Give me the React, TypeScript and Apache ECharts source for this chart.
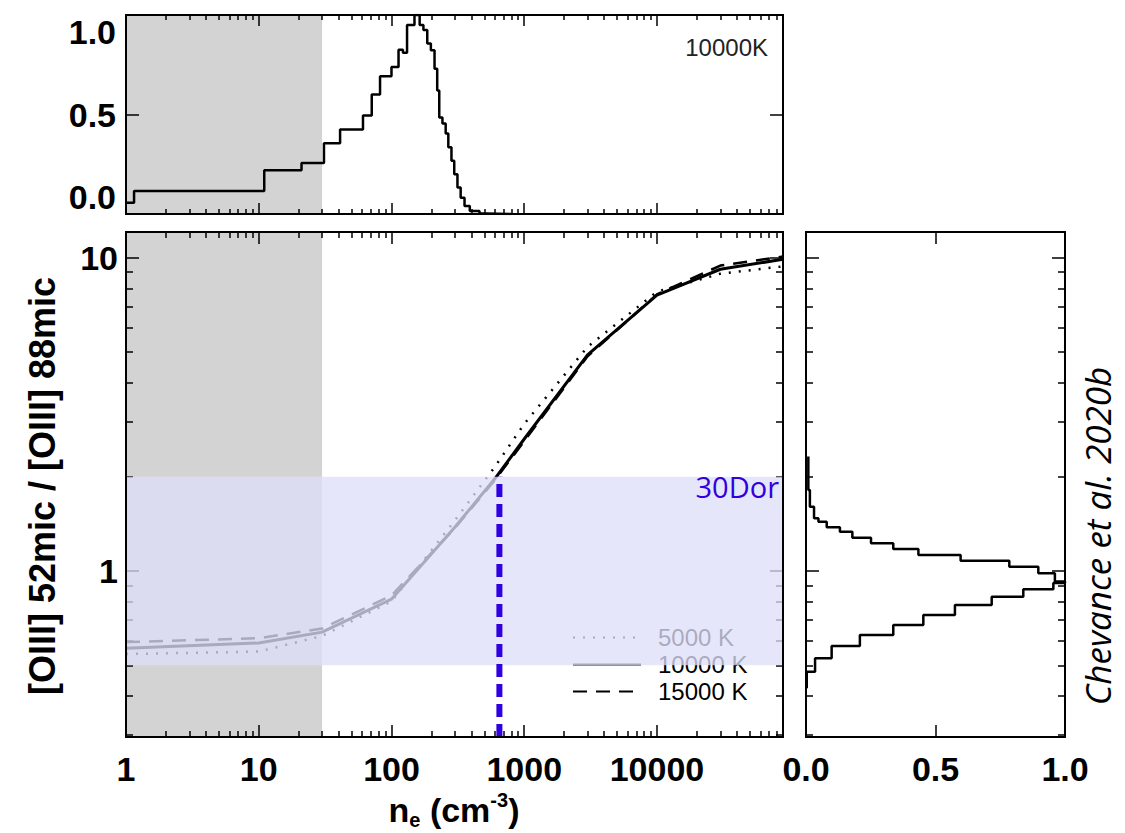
import React, { useEffect, useRef } from 'react';
import * as echarts from 'echarts';

// ---------- data ----------
const densities = [1, 10, 30, 100, 300, 600, 1000, 3000, 10000, 30000, 89000];
const ratio5000K = [0.543, 0.553, 0.62, 0.8, 1.45, 2.15, 2.95, 5.2, 7.8, 8.9, 9.4];
const ratio10000K = [0.567, 0.589, 0.638, 0.813, 1.38, 1.97, 2.64, 4.9, 7.6, 9.2, 9.9];
const ratio15000K = [0.593, 0.61, 0.655, 0.835, 1.37, 1.95, 2.6, 4.85, 7.65, 9.45, 10.1];

// top histogram: left edge of each step (cm^-3) and normalised level
const topEdges = [1, 1.15, 11, 21, 31, 41, 61, 71, 82, 100, 113, 122, 131, 149, 163, 174, 186, 198, 211, 221, 229, 242, 256, 268, 283, 297, 314, 332, 355, 389, 460, 520, 800];
const topLevels = [0.057, 0.116, 0.22, 0.256, 0.355, 0.424, 0.495, 0.6, 0.692, 0.739, 0.826, 0.81, 0.95, 1.0, 0.95, 0.924, 0.857, 0.823, 0.73, 0.62, 0.485, 0.455, 0.404, 0.335, 0.268, 0.2, 0.133, 0.082, 0.04, 0.015, 0.003, 0.0, 0.0];

// right histogram: ratio bin edges (lower edge) and normalised counts
const rightRatios = [0.422, 0.477, 0.526, 0.576, 0.625, 0.672, 0.724, 0.779, 0.828, 0.874, 0.915, 0.925, 0.983, 1.032, 1.079, 1.125, 1.176, 1.226, 1.278, 1.335, 1.379, 1.437, 1.474, 1.605, 1.815, 2.32];
const rightCounts = [0.003, 0.035, 0.099, 0.208, 0.337, 0.453, 0.575, 0.717, 0.839, 0.955, 1.0, 0.961, 0.897, 0.785, 0.597, 0.434, 0.337, 0.251, 0.179, 0.131, 0.08, 0.048, 0.031, 0.015, 0.009, 0.0066];

// 30Dor measurement
const dorDensity = 650;
const dorRatio = 2;
const bandRatio = [0.5, 2];
const greyLimit = 30;

// axis ranges & ticks
const X_MIN = 1;
const X_MAX = 89000;
const Y_MIN = 0.295;
const Y_MAX = 12.1;
const xMajor = [1, 10, 100, 1000, 10000];
const yMajor = [1, 10];
const minorMult = [2, 3, 4, 5, 6, 7, 8, 9];
const xMinor = xMajor.flatMap((d) => minorMult.map((m) => d * m)).filter((v) => v < X_MAX);
const yMinor = [0.1, 1]
  .flatMap((d) => minorMult.map((m) => +(d * m).toFixed(2)))
  .filter((v) => v > Y_MIN && v < Y_MAX);

const FONT = "'Liberation Sans', Arial, Helvetica, sans-serif";
const BLUE = '#3000e0';

const tickLine = { color: '#000', width: 1.5 };
const labelFont = { fontSize: 34, fontWeight: 'bold', fontFamily: FONT, color: '#000' };

function baseAxis(o: any) {
  return {
    splitLine: { show: false },
    axisLine: { show: false, onZero: false },
    z: 5,
    ...o,
  };
}

function logTicks(o: any, custom: number[], len: number, labels?: any) {
  return baseAxis({
    type: 'log',
    ...o,
    axisTick: { show: true, inside: true, length: len, customValues: custom, lineStyle: tickLine },
    axisLabel: labels ? labels : { show: false },
  });
}

const rectItem = (fill: string) => (params: any, api: any) => {
  const p0 = api.coord([api.value(0), api.value(1)]);
  const p1 = api.coord([api.value(2), api.value(3)]);
  return {
    type: 'rect',
    shape: {
      x: Math.min(p0[0], p1[0]),
      y: Math.min(p0[1], p1[1]),
      width: Math.abs(p1[0] - p0[0]),
      height: Math.abs(p1[1] - p0[1]),
    },
    style: { fill },
  };
};

export default function App() {
  const ref = useRef<HTMLDivElement>(null);

  useEffect(() => {
    if (!ref.current) return;
    const chart = echarts.init(ref.current, undefined, { renderer: 'svg' });

    const xRange = { min: X_MIN, max: X_MAX };
    const yRange = { min: Y_MIN, max: Y_MAX };
    const xFmt = (v: number) => String(Math.round(v));
    const yFmt = (v: number) => String(+v.toPrecision(3));

    const xAxis: any[] = [
      // 0-3 top panel
      logTicks({ gridIndex: 0, position: 'bottom', ...xRange }, xMajor, 11),
      logTicks({ gridIndex: 0, position: 'bottom', ...xRange }, xMinor, 5),
      logTicks({ gridIndex: 0, position: 'top', ...xRange }, xMajor, 11),
      logTicks({ gridIndex: 0, position: 'top', ...xRange }, xMinor, 5),
      // 4-7 main panel
      logTicks({ gridIndex: 1, position: 'bottom', ...xRange }, xMajor, 12, {
        show: true, customValues: xMajor, formatter: xFmt, margin: 15, ...labelFont,
      }),
      logTicks({ gridIndex: 1, position: 'bottom', ...xRange }, xMinor, 6),
      logTicks({ gridIndex: 1, position: 'top', ...xRange }, xMajor, 12),
      logTicks({ gridIndex: 1, position: 'top', ...xRange }, xMinor, 6),
      // 8-9 right panel
      baseAxis({
        type: 'value', gridIndex: 2, position: 'bottom', min: 0, max: 1, interval: 0.5,
        axisTick: { show: true, inside: true, length: 12, customValues: [0.5], lineStyle: tickLine },
        axisLabel: { show: true, formatter: (v: number) => v.toFixed(1), margin: 15, ...labelFont },
      }),
      baseAxis({
        type: 'value', gridIndex: 2, position: 'top', min: 0, max: 1, interval: 0.5,
        axisTick: { show: true, inside: true, length: 12, customValues: [0.5], lineStyle: tickLine },
        axisLabel: { show: false },
      }),
    ];

    const yAxis: any[] = [
      // 0-1 top panel
      baseAxis({
        type: 'value', gridIndex: 0, position: 'left', min: 0, max: 1, interval: 0.5,
        axisTick: { show: true, inside: true, length: 13, customValues: [0.5], lineStyle: tickLine },
        axisLabel: {
          show: true, formatter: (v: number) => v.toFixed(1), margin: 10, ...labelFont,
          verticalAlignMinLabel: 'bottom', verticalAlignMaxLabel: 'top',
        },
      }),
      baseAxis({
        type: 'value', gridIndex: 0, position: 'right', min: 0, max: 1, interval: 0.5,
        axisTick: { show: true, inside: true, length: 13, customValues: [0.5], lineStyle: tickLine },
        axisLabel: { show: false },
      }),
      // 2-5 main panel
      logTicks({ gridIndex: 1, position: 'left', ...yRange }, yMajor, 13, {
        show: true, customValues: yMajor, formatter: yFmt, margin: 8, ...labelFont,
      }),
      logTicks({ gridIndex: 1, position: 'left', ...yRange }, yMinor, 7),
      logTicks({ gridIndex: 1, position: 'right', ...yRange }, yMajor, 13),
      logTicks({ gridIndex: 1, position: 'right', ...yRange }, yMinor, 7),
      // 6-9 right panel
      logTicks({ gridIndex: 2, position: 'left', ...yRange }, yMajor, 13),
      logTicks({ gridIndex: 2, position: 'left', ...yRange }, yMinor, 7),
      logTicks({ gridIndex: 2, position: 'right', ...yRange }, yMajor, 13),
      logTicks({ gridIndex: 2, position: 'right', ...yRange }, yMinor, 7),
    ];

    const gridCommon = {
      show: true,
      borderColor: '#000',
      borderWidth: 2,
      backgroundColor: 'transparent',
      z: 20,
      containLabel: false,
    };

    const curve = (name: string, values: number[], type: any, width: number) => ({
      type: 'line',
      name,
      xAxisIndex: 4,
      yAxisIndex: 2,
      data: densities.map((d, i) => [d, values[i]]),
      showSymbol: false,
      symbol: 'none',
      lineStyle: { color: '#000', width, type },
      itemStyle: { color: '#000' },
      z: 3,
      silent: true,
    });

    const option: any = {
      animation: false,
      backgroundColor: '#fff',
      grid: [
        { ...gridCommon, left: 126, top: 15, width: 657, height: 199 },
        { ...gridCommon, left: 126, top: 232, width: 657, height: 505 },
        { ...gridCommon, left: 806, top: 232, width: 259, height: 505 },
      ],
      xAxis,
      yAxis,
      legend: {
        data: ['5000 K', '10000 K', '15000 K'],
        orient: 'vertical',
        left: 572,
        top: 624,
        padding: 0,
        itemWidth: 68,
        itemHeight: 14,
        itemGap: 0,
        selectedMode: false,
        z: 4,
        itemStyle: { opacity: 0, color: 'transparent', borderWidth: 0 },
        textStyle: { fontSize: 24, lineHeight: 27, fontFamily: FONT, color: '#000', padding: [0, 0, 0, 12] },
      },
      series: [
        {
          type: 'custom', name: 'greyTop', xAxisIndex: 0, yAxisIndex: 0,
          data: [[X_MIN, 0, greyLimit, 1]], renderItem: rectItem('#d3d3d3'), z: 1, silent: true,
        },
        {
          type: 'line', name: 'histTop', xAxisIndex: 0, yAxisIndex: 0, step: 'end',
          data: topEdges.map((e, i) => [e, topLevels[i]]),
          showSymbol: false, symbol: 'none',
          lineStyle: { color: '#000', width: 2.5 }, z: 3, silent: true,
        },
        {
          type: 'custom', name: 'greyMain', xAxisIndex: 4, yAxisIndex: 2,
          data: [[X_MIN, Y_MIN, greyLimit, Y_MAX]], renderItem: rectItem('#d3d3d3'), z: 1, silent: true,
        },
        curve('5000 K', ratio5000K, [2, 8], 2.5),
        curve('10000 K', ratio10000K, 'solid', 3),
        curve('15000 K', ratio15000K, [14, 9], 2.5),
        {
          type: 'custom', name: 'band', xAxisIndex: 4, yAxisIndex: 2,
          data: [[X_MIN, bandRatio[0], X_MAX, bandRatio[1]]],
          renderItem: rectItem('rgba(222,222,249,0.765)'), z: 10, silent: true,
        },
        {
          type: 'line', name: '30Dor', xAxisIndex: 4, yAxisIndex: 2,
          data: [[dorDensity, Y_MIN], [dorDensity, dorRatio]],
          showSymbol: false, symbol: 'none',
          lineStyle: { color: BLUE, width: 6, type: [13, 7] }, z: 12, silent: true,
        },
        {
          type: 'line', name: 'histRight', xAxisIndex: 8, yAxisIndex: 6, step: 'start',
          data: rightCounts.map((c, i) => [c, rightRatios[i]]),
          showSymbol: false, symbol: 'none',
          lineStyle: { color: '#000', width: 2.5 }, z: 3, silent: true,
        },
      ],
      graphic: [
        {
          type: 'text', x: 42, y: 486, rotation: Math.PI / 2, z: 15, silent: true,
          style: {
            text: '[OIII] 52mic / [OIII] 88mic', fill: '#000',
            fontSize: 36, fontWeight: 'bold', fontFamily: FONT,
            align: 'center', verticalAlign: 'middle', textAlign: 'center', textVerticalAlign: 'middle',
          },
        },
        {
          type: 'text', x: 454, y: 810, z: 15, silent: true,
          style: {
            text: '{n|n}{s|e}{n| (cm}{p|-3}{n|)}',
            align: 'center', verticalAlign: 'middle', textAlign: 'center', textVerticalAlign: 'middle',
            rich: {
              n: { fontSize: 34, fontWeight: 'bold', fontFamily: FONT, fill: '#000', lineHeight: 40 },
              s: { fontSize: 20, fontWeight: 'bold', fontFamily: FONT, fill: '#000', lineHeight: 14, verticalAlign: 'bottom' },
              p: { fontSize: 20, fontWeight: 'bold', fontFamily: FONT, fill: '#000', lineHeight: 14, verticalAlign: 'top' },
            },
          },
        },
        {
          type: 'text', x: 779, y: 486, z: 15, silent: true,
          style: {
            text: '30Dor', fill: BLUE, fontSize: 29, fontFamily: "'Open Sans', 'Liberation Sans', sans-serif",
            align: 'right', verticalAlign: 'middle', textAlign: 'right', textVerticalAlign: 'middle',
          },
        },
        {
          type: 'text', x: 768, y: 47, z: 15, silent: true,
          style: {
            text: '10000K', fill: '#222', fontSize: 24, fontFamily: FONT,
            align: 'right', verticalAlign: 'middle', textAlign: 'right', textVerticalAlign: 'middle',
          },
        },
        {
          type: 'text', x: 1097, y: 536, rotation: Math.PI / 2, z: 15, silent: true,
          style: {
            text: 'Chevance et al. 2020b', fill: '#000', fontSize: 35, fontStyle: 'italic',
            fontFamily: "'Open Sans', 'Liberation Sans', sans-serif",
            align: 'center', verticalAlign: 'middle', textAlign: 'center', textVerticalAlign: 'middle',
          },
        },
      ],
    };

    chart.setOption(option);
    return () => chart.dispose();
  }, []);

  return (
    <div
      ref={ref}
      style={{ position: 'fixed', left: 0, top: 0, width: 1125, height: 833, background: '#fff' }}
    />
  );
}
